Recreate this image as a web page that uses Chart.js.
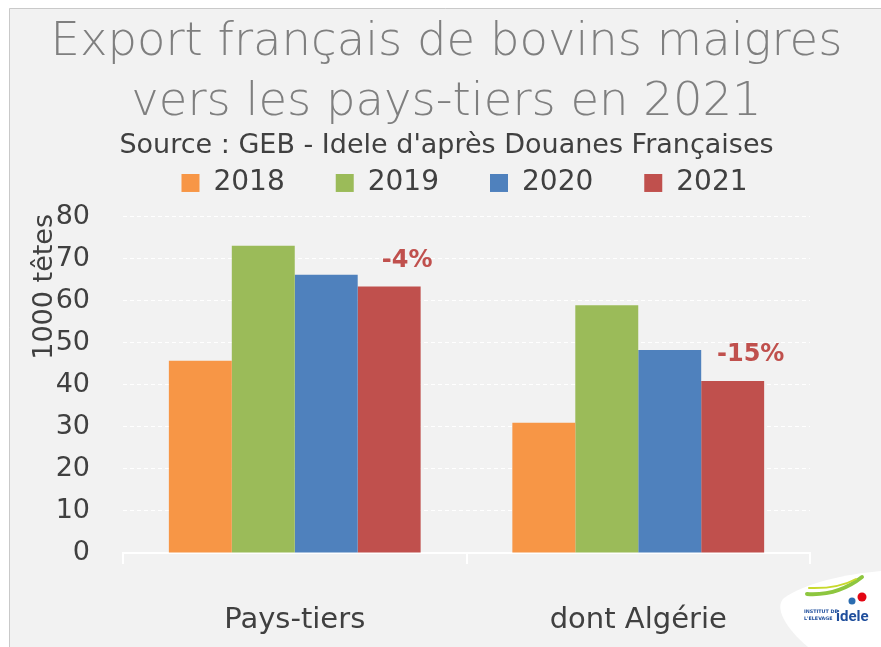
<!DOCTYPE html>
<html><head><meta charset="utf-8">
<script src="https://cdn.jsdelivr.net/npm/chart.js@4.4.1/dist/chart.umd.min.js"></script>
<style>html,body{margin:0;padding:0;background:#fff;}canvas{display:block;}</style>
</head><body>
<canvas id="c" width="881" height="647"></canvas>
<script>
const categories = ['Pays-tiers', 'dont Algérie'];
const years = ['2018', '2019', '2020', '2021'];
const v2018 = [45.7, 31.0];
const v2019 = [73.1, 58.9];
const v2020 = [66.2, 48.3];
const v2021 = [63.4, 40.9];
const changeLabels = ['-4%', '-15%'];
const yTicks = [0, 10, 20, 30, 40, 50, 60, 70, 80];
const colors = ['#f79646', '#9bbb59', '#4f81bd', '#c0504d'];
const FONT = '"DejaVu Sans"';

const framePlugin = {
  id: 'frame',
  afterLayout(chart) {
    if (chart.legend) { chart.legend.left += 39; chart.legend.right += 39; }
  },
  beforeDraw(chart) {
    const ctx = chart.ctx;
    ctx.save();
    ctx.fillStyle = '#ffffff';
    ctx.fillRect(0, 0, chart.width, chart.height);
    ctx.fillStyle = '#f2f2f2';
    ctx.fillRect(9, 8, chart.width - 9, chart.height - 8);
    ctx.strokeStyle = '#c9c9c9';
    ctx.lineWidth = 1;
    ctx.beginPath();
    ctx.moveTo(9.5, chart.height);
    ctx.lineTo(9.5, 8.5);
    ctx.lineTo(chart.width, 8.5);
    ctx.stroke();
    ctx.restore();
  }
};

const annotPlugin = {
  id: 'annot',
  afterDatasetsDraw(chart) {
    const ctx = chart.ctx;
    const meta = chart.getDatasetMeta(3);
    ctx.save();
    ctx.font = 'bold 24px ' + FONT;
    ctx.fillStyle = '#c0504d';
    ctx.textAlign = 'center';
    ctx.textBaseline = 'middle';
    meta.data.forEach((bar, i) => {
      ctx.fillText(changeLabels[i], bar.x + 18, bar.y - 26);
    });
    // y axis title
    const ys = chart.scales.y;
    ctx.font = '27px ' + FONT;
    ctx.fillStyle = '#404040';
    ctx.translate(45, ys.getPixelForValue(63.3));
    ctx.rotate(-Math.PI / 2);
    ctx.fillText('1000 têtes', 0, 0);
    ctx.restore();
  },
  afterDraw(chart) {
    // logo
    const ctx = chart.ctx;
    ctx.save();
    ctx.fillStyle = '#ffffff';
    ctx.beginPath();
    ctx.moveTo(881, 571);
    ctx.bezierCurveTo(845, 574, 805, 583, 784, 598);
    ctx.bezierCurveTo(774, 607, 785, 628, 808, 647);
    ctx.lineTo(881, 647);
    ctx.closePath();
    ctx.fill();
    ctx.strokeStyle = '#8dc63f';
    ctx.lineWidth = 4;
    ctx.lineCap = 'round';
    ctx.beginPath();
    ctx.moveTo(807, 594);
    ctx.quadraticCurveTo(838, 596, 862, 577);
    ctx.stroke();
    ctx.strokeStyle = '#c8d92b';
    ctx.lineWidth = 2;
    ctx.beginPath();
    ctx.moveTo(809, 588);
    ctx.quadraticCurveTo(838, 589, 856, 579);
    ctx.stroke();
    ctx.fillStyle = '#e30613';
    ctx.beginPath();
    ctx.arc(862, 597, 4.5, 0, Math.PI * 2);
    ctx.fill();
    ctx.fillStyle = '#2b6cb0';
    ctx.beginPath();
    ctx.arc(852, 601, 3.5, 0, Math.PI * 2);
    ctx.fill();
    ctx.fillStyle = '#1f4e9c';
    ctx.font = 'bold 4.8px ' + FONT;
    ctx.textAlign = 'left';
    ctx.textBaseline = 'alphabetic';
    ctx.fillText('INSTITUT DE', 804, 613);
    ctx.fillText("L'ELEVAGE", 804, 620);
    ctx.font = 'bold 15px Roboto';
    ctx.fillText('idele', 836, 621);
    ctx.restore();
  }
};

const datasets = [v2018, v2019, v2020, v2021].map((d, i) => ({
  label: years[i],
  data: d,
  backgroundColor: colors[i],
  borderWidth: 0,
  barPercentage: 1.0,
  categoryPercentage: 0.733
}));

new Chart(document.getElementById('c'), {
  type: 'bar',
  data: { labels: categories, datasets },
  plugins: [framePlugin, annotPlugin],
  options: {
    responsive: false,
    animation: false,
    layout: { padding: { left: 26, right: 14, top: 9, bottom: 0 } },
    plugins: {
      title: {
        display: true,
        text: ['Export français de bovins maigres', 'vers les pays-tiers en 2021'],
        color: '#7f7f7f',
        font: { family: FONT, size: 46.5, weight: 200, lineHeight: 1.29 },
        padding: { top: 4, bottom: 0 }
      },
      subtitle: {
        display: true,
        text: "Source : GEB - Idele d'après Douanes Françaises",
        color: '#404040',
        font: { family: FONT, size: 27, weight: 'normal', lineHeight: 1.0 },
        padding: { top: 0, bottom: 0 }
      },
      legend: {
        display: true,
        labels: {
          color: '#404040',
          font: { family: FONT, size: 28 },
          boxWidth: 18, boxHeight: 18,
          padding: 9,
          generateLabels(chart) {
            const items = Chart.defaults.plugins.legend.labels.generateLabels(chart);
            items.forEach(it => { it.text = it.text + '\u2002\u2002\u2002'; });
            return items;
          }
        }
      },
      tooltip: { enabled: false }
    },
    scales: {
      x: {
        afterFit(axis) { axis.height = 94; },
        grid: { display: true, drawOnChartArea: false, drawTicks: true, tickLength: 11, color: '#ffffff', lineWidth: 2, offset: true },
        border: { display: true, color: '#ffffff', width: 2 },
        ticks: { color: '#404040', font: { family: FONT, size: 29 }, padding: 39 }
      },
      y: {
        min: 0, max: 82.3,
        afterBuildTicks(axis) { axis.ticks = yTicks.map(v => ({ value: v })); },
        afterFit(axis) { axis.width = 97; },
        grid: { color: '#ffffff', lineWidth: 1, drawTicks: false },
        border: { display: false, dash: [4, 3] },
        ticks: { color: '#404040', font: { family: FONT, size: 27 }, padding: 33, autoSkip: false }
      },
      yRight: {
        position: 'right',
        display: true,
        afterFit(axis) { axis.width = 57; },
        grid: { display: false, drawTicks: false },
        border: { display: false },
        ticks: { display: false }
      }
    }
  }
});
</script>
</body></html>
